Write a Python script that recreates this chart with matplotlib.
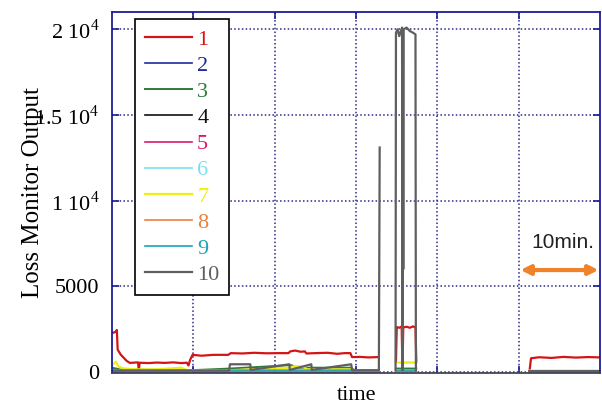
import numpy as np
import matplotlib
matplotlib.use('Agg')
import matplotlib.pyplot as plt

nan = np.nan

# loss monitor output, time in minutes (gaps = no data)
t1 = [0, 0.4, 0.6, 0.7, 1.1, 1.5, 1.8, 2.2, 3.2, 3.3, 3.4, 4.5, 5.5, 6.5, 7.5, 8.5,
      9.2, 9.4, 9.6, 9.9, 11, 12.5, 14.3, 14.6, 16, 17.5, 19, 20.5, 21.7, 21.9, 22.5,
      23.2, 23.7, 23.9, 25, 26.5, 27.7, 28.6, 29.3, 29.5, 30.5, 31.5, 32.8, 33.0,
      34.9, 35.0, 35.3, 35.6, 35.7, 35.8, 36.2, 36.6, 37.0, 37.3, 37.4, 37.5,
      51.2, 51.3, 51.5, 52.5, 54, 55.5, 57, 58.5, 60]
v1 = [2270, 2330, 2450, 1300, 1000, 800, 650, 530, 560, 80, 540, 520, 550, 530, 560, 520,
      540, 380, 700, 1000, 950, 1000, 1000, 1100, 1080, 1120, 1090, 1100, 1100, 1200, 1250,
      1180, 1200, 1080, 1100, 1120, 1060, 1100, 1100, 870, 880, 850, 870, nan,
      600, 2620, 2580, 2650, 300, 2600, 2640, 2580, 2660, 2600, 600, nan,
      nan, 0, 800, 860, 820, 880, 840, 870, 850]

t10 = [0, 14.4, 14.5, 17.0, 17.05, 21.8, 21.85, 24.5, 24.55, 29.4, 29.5, 32.8, 32.9, 33.0,
       34.85, 34.9, 35.1, 35.3, 35.5, 35.65, 35.7, 35.75, 35.8, 35.85, 36.2, 36.6, 37.0,
       37.3, 37.35, 37.5, 51.3, 60]
v10 = [80, 80, 450, 450, 120, 450, 120, 450, 120, 450, 100, 100, 13100, nan,
       100, 19800, 20000, 19600, 19900, 20100, 100, 19900, 6000, 20000, 20100, 19900, 19800,
       19700, 100, nan, 50, 50]

t7 = [0, 0.5, 0.8, 1.5, 3, 5, 7, 8.5, 9.3, 9.6, 10, 14.5, 17, 21.8, 22.5, 23.5, 24,
      29.4, 30, 32.8, 33.0, 34.9, 37.4, 37.5, 51.3, 60]
v7 = [400, 600, 300, 200, 150, 150, 200, 250, 100, 0, 100, 100, 150, 250, 350, 300, 150,
      150, 100, 100, nan, 550, 550, nan, 80, 80]

t3 = [0, 1, 9.6, 14.5, 22.0, 23.0, 29.4, 30, 32.8, 33.0, 34.9, 37.4, 37.5, 51.3, 60]
v3 = [250, 150, 100, 200, 400, 250, 250, 50, 50, nan, 200, 200, nan, 30, 30]

# the near-zero channels share the same data segments
t_low = [0, 32.8, 33.0, 34.9, 37.4, 37.5, 51.3, 60]
v2 = [20, 20, nan, 40, 40, nan, 10, 10]
v4 = [40, 40, nan, 60, 60, nan, 20, 20]
v5 = [60, 60, nan, 80, 80, nan, 15, 15]
v6 = [30, 30, nan, 50, 50, nan, 10, 10]
v8 = [90, 90, nan, 120, 120, nan, 40, 40]
v9 = [50, 50, nan, 70, 70, nan, 20, 20]

labels = ['1', '2', '3', '4', '5', '6', '7', '8', '9', '10']
colors = ['#d41515', '#1c2a9c', '#2e7b3c', '#111111', '#d81a6a',
          '#7adfef', '#eeee10', '#e8823a', '#18a6b6', '#5f5f5f']
series = [(t1, v1), (t_low, v2), (t3, v3), (t_low, v4), (t_low, v5),
          (t_low, v6), (t7, v7), (t_low, v8), (t_low, v9), (t10, v10)]
widths = [1.6, 1.2, 1.4, 1.2, 1.2, 1.2, 1.6, 1.2, 1.2, 1.6]

plt.rcParams['font.family'] = ['Liberation Serif', 'DejaVu Serif']
plt.rcParams['mathtext.fontset'] = 'custom'
plt.rcParams['mathtext.rm'] = 'Liberation Serif'

fig = plt.figure(figsize=(6.02, 4.05), dpi=100)
ax = fig.add_axes([0.186, 0.079, 0.811, 0.891])

for (t, v), lab, c, w in zip(series, labels, colors, widths):
    ax.plot(t, v, color=c, lw=w, label=lab)

ax.set_xlim(0, 60)
ax.set_ylim(-60, 21000)
ax.set_xticks([10, 20, 30, 40, 50])
ax.set_xticklabels([])
ax.set_yticks([0, 5000, 10000, 15000, 20000])
ax.set_yticklabels(['0', '5000', r'1 $10^4$', r'1.5 $10^4$', r'2 $10^4$'], fontsize=16)
ax.tick_params(direction='in', length=5, width=1.2, color='#1c1c9c',
               top=True, right=True, pad=9)
ax.grid(True, color='#2a2a88', linestyle=(0, (1, 1.5)), lw=1.1)
for s in ax.spines.values():
    s.set_color('#1c1c9c')
    s.set_linewidth(1.3)
ax.spines['bottom'].set_color('#444455')

ax.set_xlabel('time', fontsize=16, labelpad=0)
ax.set_ylabel('Loss Monitor Output', fontsize=18)
ax.yaxis.set_label_coords(-0.14, 0.5)

leg = ax.legend(loc='upper left', bbox_to_anchor=(0.047, 0.98), borderaxespad=0,
                fontsize=16, labelcolor='linecolor', handlelength=2.1,
                handletextpad=0.25, labelspacing=0.25, borderpad=0.45,
                fancybox=False, framealpha=1, edgecolor='black')
leg.get_frame().set_linewidth(1.2)

ax.annotate('', xy=(59.8, 5950), xytext=(50.2, 5950),
            arrowprops=dict(arrowstyle='<|-|>', color='#f0822a', lw=3,
                            mutation_scale=14, shrinkA=0, shrinkB=0))
ax.text(55.4, 7000, '10min.', fontsize=15, family='Liberation Sans',
        color='#222222', ha='center', va='bottom')

fig.savefig('out.png', dpi=100)
